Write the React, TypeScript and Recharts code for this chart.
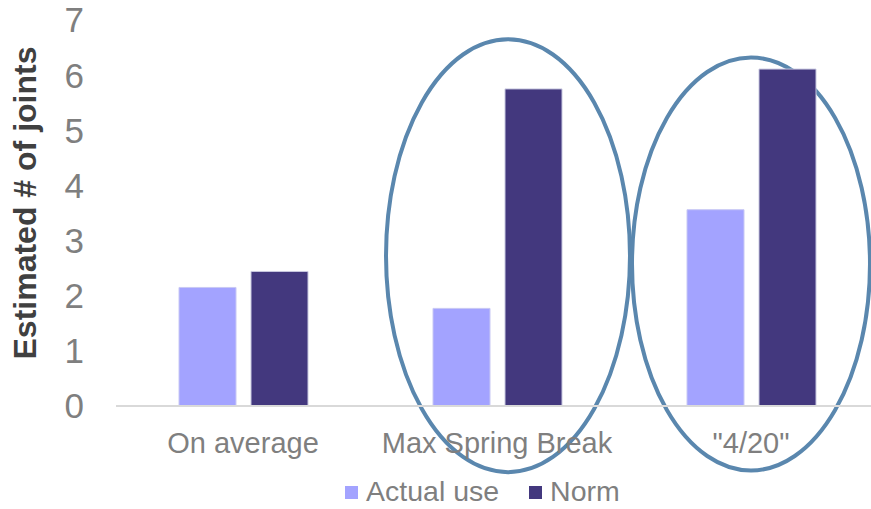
import { Bar, BarChart, Legend, ReferenceArea, XAxis, YAxis } from "recharts";

const categories = ["On average", "Max Spring Break", "\"4/20\""];
const actualUse = [2.15, 1.77, 3.56];
const norm = [2.44, 5.75, 6.11];
const yTicks = [0, 1, 2, 3, 4, 5, 6, 7];

// circled groups: category, top and bottom of the ellipse in axis units, sideways nudge
const highlights = [
  { category: categories[1], top: 6.65, bottom: -1.2, shift: 11, rx: 122 },
  { category: categories[2], top: 6.32, bottom: -1.17, shift: 0, rx: 119 },
];

const data = categories.map((name, i) => ({ name, actual: actualUse[i], norm: norm[i] }));

const ACTUAL = "#A3A3FF";
const NORM = "#43387E";
const RING = "#5A87AE";
const TEXT = "#7F7F7F";
const FONT = "'Liberation Sans', Arial, sans-serif";

function Ring(props: any) {
  const { x, y, width, height, shift, rx } = props;
  if (y == null || height == null) return null;
  const cx = x + width / 2 + shift;
  return <ellipse cx={cx} cy={y + height / 2} rx={rx} ry={Math.abs(height) / 2} fill="none" stroke={RING} strokeWidth={4} />;
}

function LegendBox() {
  const item = (color: string, label: string) => (
    <span style={{ display: "inline-flex", alignItems: "center", gap: 8 }}>
      <span style={{ width: 13, height: 13, background: color, display: "inline-block" }} />
      <span style={{ fontSize: 28.5, color: TEXT, fontFamily: FONT, lineHeight: 1.1, whiteSpace: "nowrap" }}>{label}</span>
    </span>
  );
  return (
    <div style={{ display: "flex", gap: 30, alignItems: "center", height: 32 }}>
      {item(ACTUAL, "Actual use")}
      {item(NORM, "Norm")}
    </div>
  );
}

export default function App() {
  return (
    <div style={{ width: 871, height: 509, overflow: "hidden", position: "relative", background: "#fff" }}>
      <style>{"body{margin:0}"}</style>
      <BarChart width={880} height={509} data={data} margin={{ top: 20, right: 2, bottom: 41, left: 0 }} barSize={57} barGap={15}>
        <XAxis
          dataKey="name"
          axisLine={{ stroke: "#D9D9D9", strokeWidth: 2 }}
          tickLine={false}
          tickSize={0}
          tickMargin={26}
          tick={{ fontSize: 29, fill: TEXT, fontFamily: FONT }}
          interval={0}
        />
        <YAxis
          width={116}
          domain={[0, 7]}
          ticks={yTicks}
          axisLine={false}
          tickLine={false}
          tickSize={0}
          tickMargin={32}
          tick={{ fontSize: 35, fill: TEXT, fontFamily: FONT }}
          label={{
            value: "Estimated # of joints",
            angle: -90,
            position: "insideLeft",
            dx: 20,
            dy: -10,
            style: { fontSize: 32, fontWeight: 700, fill: "#404040", fontFamily: FONT, textAnchor: "middle" },
          }}
        />
        <Bar dataKey="actual" name="Actual use" fill={ACTUAL} stroke="#C8C8F4" strokeWidth={1} isAnimationActive={false} />
        <Bar dataKey="norm" name="Norm" fill={NORM} stroke="#C8C8E0" strokeWidth={1} isAnimationActive={false} />
        {highlights.map((h) => (
          <ReferenceArea
            key={h.category}
            x1={h.category}
            x2={h.category}
            y1={h.bottom}
            y2={h.top}
            ifOverflow="visible"
            shape={(p: any) => <Ring {...p} shift={h.shift} rx={h.rx} />}
          />
        ))}
        <Legend content={() => <LegendBox />} wrapperStyle={{ left: 345, top: 476, width: 300, height: 32 }} />
      </BarChart>
    </div>
  );
}
